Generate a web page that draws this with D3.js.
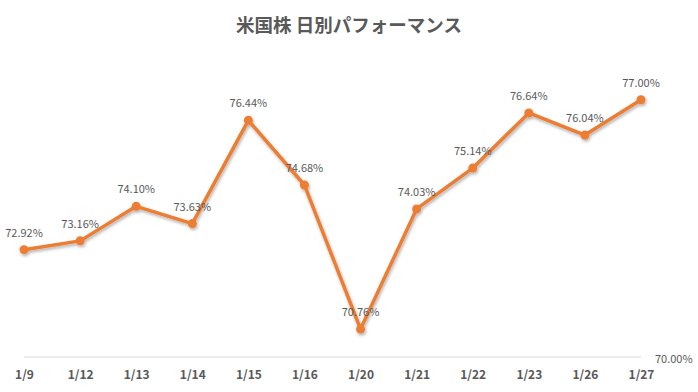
<!DOCTYPE html>
<html>
<head>
<meta charset="utf-8">
<script src="https://cdn.jsdelivr.net/npm/d3@7"></script>
<style>
    body { margin: 0; background: #fff; }
    text { font-family: "Noto Sans CJK JP", "Open Sans", sans-serif; }
</style>
</head>
<body>
<div id="chartDivId"></div>
<script>
// Data
const dates = ["1/9", "1/12", "1/13", "1/14", "1/15", "1/16", "1/20", "1/21", "1/22", "1/23", "1/26", "1/27"];
const perf = [72.92, 73.16, 74.10, 73.63, 76.44, 74.68, 70.76, 74.03, 75.14, 76.64, 76.04, 77.00];
const yTicks = [70];
const title = "米国株 日別パフォーマンス";

const canvas = { width: 698, height: 392 };
const margin = { left: 24, right: 57, top: 63, bottom: 35 };
const chart = {
    width: canvas.width - margin.left - margin.right,
    height: canvas.height - margin.top - margin.bottom
};

const svg = d3.select("#chartDivId")
    .append("svg")
    .attr("width", canvas.width)
    .attr("height", canvas.height);

// shadow under the line
const defs = svg.append("defs");
const filt = defs.append("filter").attr("id", "shadow")
    .attr("x", "-10%").attr("y", "-10%").attr("width", "120%").attr("height", "130%");
filt.append("feDropShadow")
    .attr("dx", 1).attr("dy", 2).attr("stdDeviation", 1.5)
    .attr("flood-color", "#000").attr("flood-opacity", 0.3);

svg.append("text")
    .attr("x", canvas.width / 2)
    .attr("y", 32)
    .attr("text-anchor", "middle")
    .style("font-size", "18.5px")
    .style("font-weight", "bold")
    .style("fill", "#595959")
    .text(title);

const g = svg.append("g")
    .attr("transform", "translate(" + margin.left + "," + margin.top + ")");

const x = d3.scalePoint().domain(dates).range([0, chart.width]);
const y = d3.scaleLinear().domain([70, 78]).range([chart.height, 0]);

// baseline
g.append("line")
    .attr("x1", 0).attr("x2", chart.width)
    .attr("y1", y(70)).attr("y2", y(70))
    .style("stroke", "#d9d9d9")
    .style("stroke-width", 1);

// x axis labels
const xAxis = d3.axisBottom(x).tickSize(0).tickPadding(13);
const xg = g.append("g")
    .attr("transform", "translate(0," + chart.height + ")")
    .call(xAxis);
xg.select(".domain").remove();
xg.selectAll("text")
    .style("font-size", "12px")
    .style("font-weight", "bold")
    .style("fill", "#595959");

// right axis, only 70.00%
const yAxis = d3.axisRight(y).tickValues(yTicks).tickSize(0).tickPadding(14)
    .tickFormat(d => d.toFixed(2) + "%");
const yg = g.append("g")
    .attr("transform", "translate(" + chart.width + ",0)")
    .call(yAxis);
yg.select(".domain").remove();
yg.selectAll("text")
    .attr("dy", "0.5em")
    .style("font-size", "11px")
    .style("fill", "#595959");

const line = d3.line()
    .x((d, i) => x(dates[i]))
    .y(d => y(d));

const series = g.append("g").attr("filter", "url(#shadow)");

series.append("path")
    .datum(perf)
    .attr("d", line)
    .style("fill", "none")
    .style("stroke", "#ED7D31")
    .style("stroke-width", 3.5)
    .style("stroke-linejoin", "round");

series.selectAll("circle")
    .data(perf)
    .enter()
    .append("circle")
    .attr("cx", (d, i) => x(dates[i]))
    .attr("cy", d => y(d))
    .attr("r", 4.5)
    .style("fill", "#ED7D31");

// data labels
g.selectAll(".dlabel")
    .data(perf)
    .enter()
    .append("text")
    .attr("class", "dlabel")
    .attr("x", (d, i) => x(dates[i]))
    .attr("y", d => y(d) - 13)
    .attr("text-anchor", "middle")
    .style("font-size", "11px")
    .style("fill", "#595959")
    .text(d => d.toFixed(2) + "%");
</script>
</body>
</html>
